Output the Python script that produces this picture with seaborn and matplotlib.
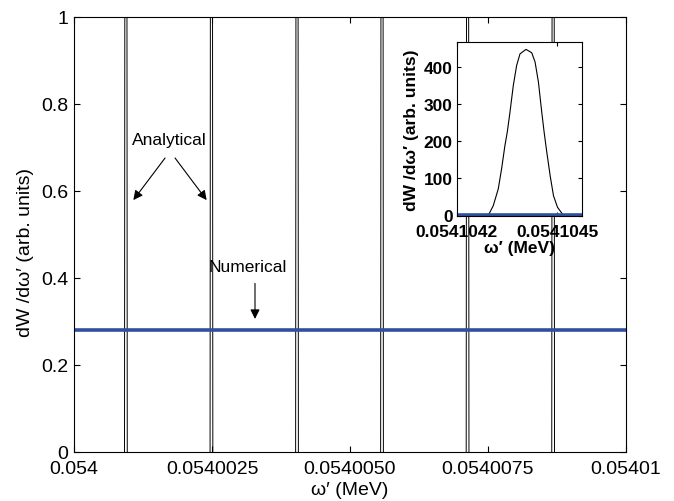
import numpy as np
import pandas as pd
import matplotlib
matplotlib.use("Agg")
import matplotlib.pyplot as plt
import seaborn as sns

# ---------------- data ----------------
# main panel: analytical peak centres (MeV)
peak_centers = [0.05400094, 0.05400249, 0.05400404, 0.05400558, 0.05400713, 0.05400868]
# narrow peak profile: offsets from centre (MeV) and heights
peak_offsets = [-2.5e-8, -1.8e-8, 0.0, 1.8e-8, 2.5e-8]
peak_heights = [0.0, 1.3, 445.0, 1.3, 0.0]

# numerical result (flat line)
numerical_x = [0.054, 0.05401]
numerical_y = [0.28, 0.28]

# inset: one analytical peak
inset_x = [0.05410420, 0.054104294, 0.054104309, 0.054104324, 0.054104334,
           0.054104344, 0.054104351, 0.054104359, 0.054104369, 0.054104379,
           0.054104389, 0.054104407, 0.054104424, 0.054104434, 0.054104444,
           0.054104454, 0.054104461, 0.054104469, 0.054104479, 0.054104489,
           0.054104501, 0.054104519, 0.05410458]
inset_y = [0, 0, 26, 71, 125, 188, 224, 277, 349, 403, 434, 446, 437, 412, 358,
           277, 224, 170, 107, 53, 22, 0, 0]
inset_num_x = [0.05410420, 0.05410458]
inset_num_y = [0.28, 0.28]

main_xticks = [0.054, 0.0540025, 0.0540050, 0.0540075, 0.05401]
main_xticklabels = ["0.054", "0.0540025", "0.0540050", "0.0540075", "0.05401"]
main_yticks = [0, 0.2, 0.4, 0.6, 0.8, 1]
main_yticklabels = ["0", "0.2", "0.4", "0.6", "0.8", "1"]
inset_xticks = [0.0541042, 0.0541045]
inset_xticklabels = ["0.0541042", "0.0541045"]
inset_yticks = [0, 100, 200, 300, 400]

# ---------------- style ----------------
sns.set_style("ticks")
plt.rcParams["font.family"] = ["Liberation Sans", "DejaVu Sans"]
plt.rcParams["axes.linewidth"] = 0.8
plt.rcParams["text.color"] = "black"
plt.rcParams["axes.labelcolor"] = "black"
plt.rcParams["xtick.color"] = "black"
plt.rcParams["ytick.color"] = "black"

BLUE = "#2f4f9f"

fig = plt.figure(figsize=(6.74, 5.02), dpi=100)
ax = fig.add_axes([74/674, 49/502, 552/674, 435/502])

rows = []
for i, c in enumerate(peak_centers):
    for o, h in zip(peak_offsets, peak_heights):
        rows.append({"x": c + o, "y": h, "peak": i})
peaks_df = pd.DataFrame(rows)

sns.lineplot(data=peaks_df, x="x", y="y", units="peak", estimator=None,
             color="black", lw=0.7, ax=ax, legend=False)
sns.lineplot(x=numerical_x, y=numerical_y, color=BLUE, lw=2.6, ax=ax)

ax.set_xlim(0.054, 0.05401)
ax.set_ylim(0, 1)
ax.set_xticks(main_xticks)
ax.set_xticklabels(main_xticklabels)
ax.set_yticks(main_yticks)
ax.set_yticklabels(main_yticklabels)
ax.tick_params(direction="in", top=True, right=True, length=4, width=0.8,
               labelsize=14)
ax.tick_params(axis="x", pad=6)
ax.tick_params(axis="y", pad=4)
for s in ax.spines.values():
    s.set_visible(True)
    s.set_color("black")
ax.set_xlabel("ω′ (MeV)", fontsize=14, labelpad=3)
ax.set_ylabel("dW /dω′ (arb. units)", fontsize=14)
ax.yaxis.set_label_coords(-0.073, 0.46)

# annotations
ax.annotate("", xy=(0.054001045, 0.574), xytext=(0.05400168, 0.681),
            arrowprops=dict(arrowstyle="-|>", color="black", lw=0.8, mutation_scale=14))
ax.annotate("", xy=(0.054002433, 0.574), xytext=(0.0540018, 0.681),
            arrowprops=dict(arrowstyle="-|>", color="black", lw=0.8, mutation_scale=14))
ax.text(0.054001726, 0.718, "Analytical", fontsize=12.5, ha="center", va="center")
ax.text(0.054003152, 0.426, "Numerical", fontsize=12.5, ha="center", va="center")
ax.annotate("", xy=(0.054003279, 0.2995), xytext=(0.054003279, 0.394),
            arrowprops=dict(arrowstyle="-|>", color="black", lw=0.8, mutation_scale=14))

# inset
axi = fig.add_axes([456.7/674, (502-216.5)/502, 125.6/674, 173.2/502])
sns.lineplot(x=inset_x, y=inset_y, color="black", lw=0.8, ax=axi)
sns.lineplot(x=inset_num_x, y=inset_num_y, color=BLUE, lw=2.6, ax=axi)
axi.set_xlim(0.05410420, 0.054104575)
axi.set_ylim(0, 465)
axi.set_xticks(inset_xticks)
axi.set_xticklabels(inset_xticklabels, fontweight="bold")
axi.set_yticks(inset_yticks)
axi.set_yticklabels([str(v) for v in inset_yticks], fontweight="bold")
axi.tick_params(direction="in", top=True, right=True, length=3, width=0.8,
                labelsize=12.5)
axi.tick_params(axis="x", pad=6)
axi.tick_params(axis="y", pad=3)
for s in axi.spines.values():
    s.set_visible(True)
    s.set_color("black")
axi.set_xlabel("ω′ (MeV)", fontsize=12.5, fontweight="bold", labelpad=1)
axi.set_ylabel("dW /dω′ (arb. units)", fontsize=12.5, fontweight="bold", labelpad=3)

fig.savefig("out.png", dpi=100)
